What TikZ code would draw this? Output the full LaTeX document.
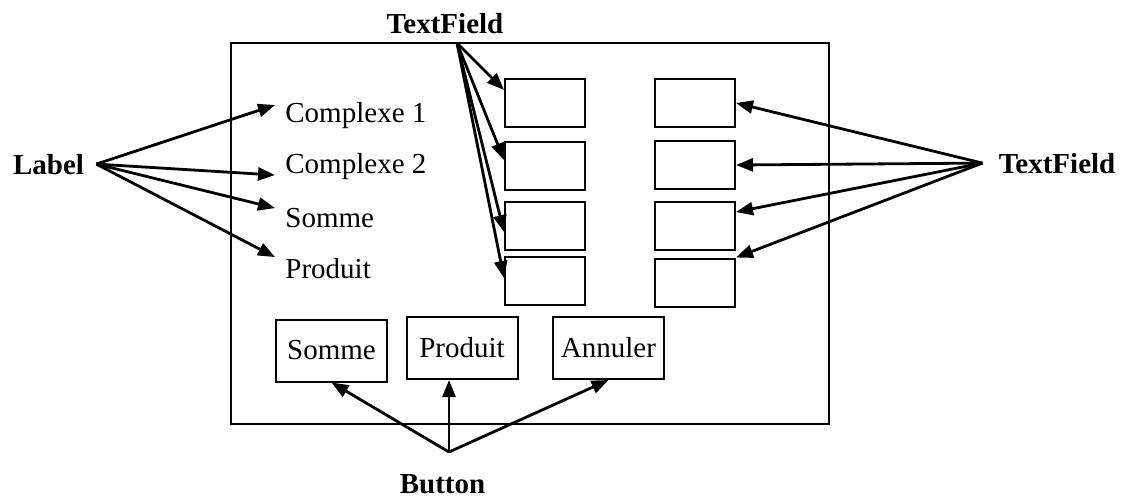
\documentclass[tikz,border=0pt]{standalone}
\usepackage{fontspec}
\setmainfont{Liberation Serif}
\usetikzlibrary{arrows.meta}

\begin{document}
\begin{tikzpicture}[
    x=0.5pt, y=-0.5pt,
    >={Triangle[length=8.5pt,width=6.5pt]},
    field/.style = {rectangle, draw=black, line width=1pt, fill=white,
                    minimum width=40pt, minimum height=24pt, inner sep=0pt},
    btn/.style   = {rectangle, draw=black, line width=1pt, fill=white,
                    minimum width=55.5pt, minimum height=31pt, inner sep=0pt,
                    font=\fontsize{14.5}{17}\selectfont},
    txt/.style   = {anchor=base west, inner sep=5pt,
                    font=\fontsize{14.5}{17}\selectfont},
    kind/.style  = {anchor=base, font=\fontsize{14.5}{17}\selectfont\bfseries},
    ptr/.style   = {->, line width=1.4pt},
  ]
  \useasboundingbox (0,0) rectangle (1127,499);
  % window frame
  \draw[line width=1pt] (231,43) rectangle (829,424);
  % label texts
  \node[txt] (c1) at (275,122) {Complexe 1};
  \node[txt] (c2) at (275,173) {Complexe 2};
  \node[txt] (so) at (275,227) {Somme};
  \node[txt] (pr) at (275,278) {Produit};
  % text fields, left column
  \node[field] (tl1) at (545,102.5) {};
  \node[field] (tl2) at (545,166)   {};
  \node[field] (tl3) at (545,225.5) {};
  \node[field] (tl4) at (545,281)   {};
  % text fields, right column
  \node[field] (tr1) at (695,103)   {};
  \node[field] (tr2) at (695,165)   {};
  \node[field] (tr3) at (695,225.5) {};
  \node[field] (tr4) at (695,282.5) {};
  % buttons
  \node[btn] (bso) at (331.5,350.5) {Somme};
  \node[btn] (bpr) at (462,348)     {Produit};
  \node[btn] (ban) at (608.5,348)   {Annuler};
  % component names
  \node[kind, inner sep=6pt] (lbl) at (48.5,174)  {Label};
  \node[kind] (tftop)            at (445,33)    {TextField};
  \node[kind, inner sep=8pt] (tfr) at (1057,173) {TextField};
  \node[kind] (but)              at (442.5,493) {Button};
  \coordinate (tfsrc) at (457,43);
  \coordinate (bsrc)  at (449,452);
  % Label arrows
  \draw[ptr] (lbl.east) -- ([yshift=5pt]c1.west);
  \draw[ptr] (lbl.east) -- ([yshift=-4.5pt]c2.west);
  \draw[ptr] (lbl.east) -- ([yshift=4.75pt]so.west);
  \draw[ptr] (lbl.east) -- ([yshift=5.5pt]pr.west);
  % TextField arrows (top)
  \draw[ptr] (tfsrc) -- ([yshift=6.25pt]tl1.west);
  \draw[ptr] (tfsrc) -- ([yshift=3pt]tl2.west);
  \draw[ptr] (tfsrc) -- ([yshift=-3.25pt]tl3.west);
  \draw[ptr] (tfsrc) -- ([yshift=1.5pt]tl4.west);
  % TextField arrows (right)
  \draw[ptr] (tfr.west) -- (tr1.east);
  \draw[ptr] (tfr.west) -- (tr2.east);
  \draw[ptr] (tfr.west) -- ([yshift=6.75pt]tr3.east);
  \draw[ptr] (tfr.west) -- (tr4.north east);
  % Button arrows
  \draw[ptr] (bsrc) -- (bso.south);
  \draw[ptr] (bsrc) -- ([xshift=-6.5pt]bpr.south);
  \draw[ptr] (bsrc) -- (ban.south);
\end{tikzpicture}
\end{document}
